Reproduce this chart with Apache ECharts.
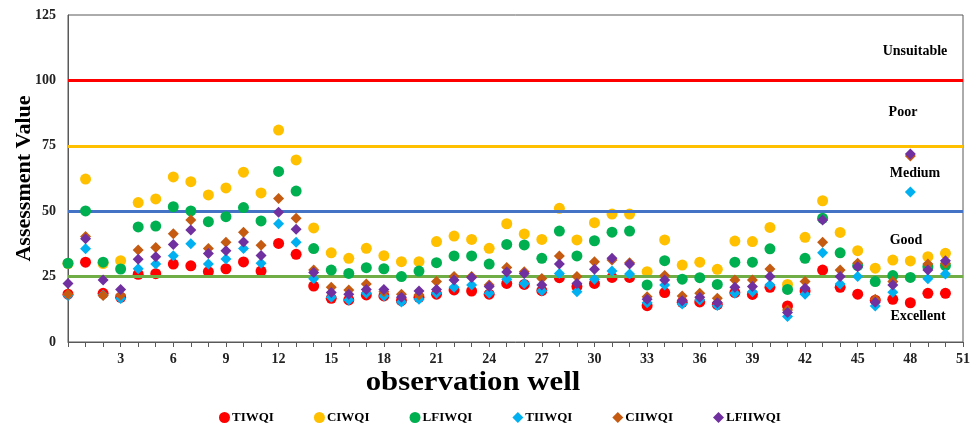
<!DOCTYPE html>
<html><head><meta charset="utf-8">
<script src="https://cdn.jsdelivr.net/npm/echarts@6/dist/echarts.min.js"></script>
<style>html,body{margin:0;padding:0;background:#fff}#c{width:977px;height:431px}</style>
</head><body><div id="c"></div>
<script>
const wells = Array.from({length:51},(_,i)=>i);
const xTickLabels = [3,6,9,12,15,18,21,24,27,30,33,36,39,42,45,48,51];
const yTicks = [0,25,50,75,100,125];
const seriesNames = ['TIWQI','CIWQI','LFIWQI','TIIWQI','CIIWQI','LFIIWQI'];
const TIWQI = [18.3,30.5,18.6,17.1,25.9,26.1,29.8,29.1,26.9,28.0,30.6,27.1,37.7,33.5,21.4,16.7,16.1,18.0,17.6,15.8,17.1,18.3,19.9,19.5,18.3,22.4,22.0,19.6,24.6,21.2,22.4,24.7,24.7,13.9,18.9,15.2,15.3,14.3,18.9,18.2,20.9,13.8,19.5,27.5,20.9,18.3,16.0,16.3,15.0,18.6,18.6];
const CIWQI = [30.0,62.3,30.0,31.1,53.3,54.7,63.1,61.3,56.2,58.9,64.9,57.0,81.0,69.6,43.6,34.1,32.0,35.8,33.0,30.7,30.7,38.4,40.5,39.2,35.8,45.2,41.3,39.2,51.1,39.0,45.6,48.9,48.9,26.9,39.0,29.4,30.5,27.8,38.6,38.4,43.8,22.0,40.0,54.0,41.9,34.9,28.2,31.3,31.0,32.6,33.9];
const LFIWQI = [30.1,50.1,30.5,27.9,44.0,44.3,51.7,50.1,46.0,47.9,51.4,46.3,65.2,57.7,35.7,27.5,26.2,28.4,28.0,25.0,27.1,30.3,32.9,32.9,29.8,37.3,37.1,32.0,42.4,32.9,38.7,42.0,42.4,21.8,31.1,24.0,24.6,22.0,30.5,30.5,35.6,20.1,32.0,47.3,34.1,29.2,23.1,25.4,24.7,28.8,29.2];
const TIIWQI = [17.8,35.6,18.0,16.6,28.0,29.8,33.0,37.6,29.8,31.7,35.7,30.1,45.2,38.1,24.2,17.1,16.1,18.6,17.6,15.3,16.3,18.6,20.9,21.8,18.6,24.0,22.4,19.6,26.2,19.2,24.0,27.1,26.0,15.0,21.8,14.5,16.1,14.0,18.6,19.2,21.8,9.7,18.3,34.1,22.2,25.0,13.8,19.0,57.3,24.2,26.0];
const CIIWQI = [18.3,40.3,17.8,18.0,35.2,36.1,41.4,46.6,35.7,38.1,42.0,37.0,54.9,47.3,27.5,20.9,19.9,22.2,19.2,18.3,18.0,23.1,25.0,25.0,21.8,28.5,26.9,24.3,32.9,25.0,30.7,31.3,30.3,17.3,25.4,17.6,18.6,16.7,23.7,23.7,27.9,12.2,23.1,38.1,27.5,30.1,16.3,23.1,71.1,29.8,30.1];
const LFIIWQI = [22.4,39.5,23.7,20.1,31.6,32.6,37.3,42.8,33.8,34.9,38.2,33.1,49.6,43.1,26.6,18.9,18.3,20.1,20.1,17.1,19.5,20.1,23.7,24.7,21.2,26.8,26.2,21.8,29.8,22.4,27.8,32.0,29.8,16.3,23.7,15.8,17.1,15.0,20.9,21.2,25.0,11.3,20.5,46.6,25.0,28.8,15.2,21.8,71.9,27.5,31.1];
const thresholds = [100,75,50,25];
const classNames = ['Unsuitable','Poor','Medium','Good','Excellent'];
const xTitle = 'observation well';

const colors = ['#FF0000','#FFC000','#00B050','#00B0F0','#C55A11','#7030A0'];
const symbols = ['circle','circle','circle','diamond','diamond','diamond'];
const values = [TIWQI,CIWQI,LFIWQI,TIIWQI,CIIWQI,LFIIWQI];
const lineColors = ['#FF0000','#FFC000','#4472C4','#70AD47'];
const font = 'Liberation Serif';

const chart = echarts.init(document.getElementById('c'), null, {renderer:'canvas'});
const series = seriesNames.map((n,k)=>({
  name:n, type:'scatter', symbol:symbols[k], symbolSize: 11,
  itemStyle:{color:colors[k], opacity:1},
  data: wells.map((w,i)=>[w, values[k][i]]),
  z: 3+k
}));
series.push({
  name:'thresholds', type:'line', data:[], silent:true, z:2,
  markLine:{silent:true, symbol:'none', animation:false, label:{show:false},
    data: thresholds.map((t,i)=>({yAxis:t, lineStyle:{color:lineColors[i], width:3, type:'solid'}}))}
});
const classY = [51,112,173,240,316];
const classX = [915,903,915,906,918];
chart.setOption({
  animation:false,
  grid:{left:68, right:14, top:15, bottom:89, show:true, borderColor:'#595959', borderWidth:1,
    containLabel:false, outerBoundsMode:'none'},
  xAxis:{type:'value', min:0, max:51, interval:1,
    axisLine:{lineStyle:{color:'#595959'}},
    axisTick:{show:true, inside:false, length:5, lineStyle:{color:'#595959'}},
    splitLine:{show:false},
    axisLabel:{fontFamily:font, fontWeight:'bold', fontSize:14, color:'#222', margin:10,
      formatter:v=> xTickLabels.includes(v)? String(v):''}},
  yAxis:{type:'value', min:0, max:125, interval:25,
    name:'Assessment Value', nameLocation:'middle', nameGap:33, nameRotate:90, nameMoveOverlap:false,
    nameTextStyle:{fontFamily:font, fontWeight:'bold', fontSize:22, color:'#000'},
    axisLine:{show:true, lineStyle:{color:'#595959'}},
    axisTick:{show:false}, splitLine:{show:false},
    axisLabel:{fontFamily:font, fontWeight:'bold', fontSize:14, color:'#222', margin:12,
      formatter:v=> yTicks.includes(v)? String(v):''}},
  legend:{data: seriesNames.map((n,k)=>({name:n, icon:symbols[k]})), bottom:2, left:214,
    itemWidth:11, itemHeight:11, itemGap:40,
    textStyle:{fontFamily:font, fontWeight:'bold', fontSize:13, color:'#000', padding:[0,0,0,-3]}},
  graphic: classNames.map((t,i)=>({type:'text', x:classX[i], y:classY[i],
    style:{text:t, fontFamily:font, fontWeight:'bold', fontSize:14, fill:'#000', align:'center', verticalAlign:'middle'}}))
    .concat([{type:'text', x:473, y:383, scaleX:1.1,
      style:{text:xTitle, fontFamily:font, fontWeight:'bold', fontSize:28, fill:'#000', align:'center', verticalAlign:'middle'}}]),
  series: series
});
</script></body></html>
